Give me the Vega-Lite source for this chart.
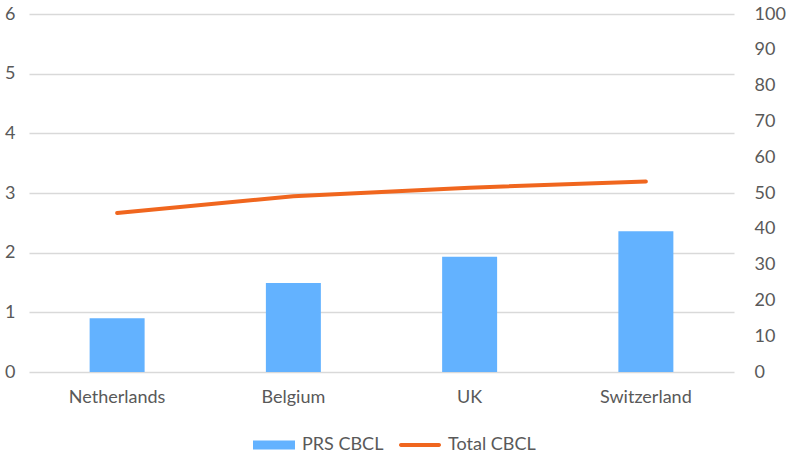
{
  "$schema": "https://vega.github.io/schema/vega-lite/v6.json",
  "autosize": {"type": "none"},
  "width": 705,
  "height": 358,
  "padding": {"left": 29, "top": 14, "right": 52, "bottom": 83},
  "background": "white",
  "config": {
    "view": {"stroke": null},
    "font": "Lato",
    "axis": {"labelFont": "Lato", "labelFontSize": 18, "labelColor": "#595959", "domain": false, "ticks": false}
  },
  "data": {
    "values": [
      {"country": "Netherlands", "prs": 0.9, "total": 44.4},
      {"country": "Belgium", "prs": 1.49, "total": 49.1},
      {"country": "UK", "prs": 1.93, "total": 51.5},
      {"country": "Switzerland", "prs": 2.36, "total": 53.2}
    ]
  },
  "encoding": {
    "x": {
      "field": "country", "type": "nominal", "sort": null,
      "scale": {"paddingInner": 0.688, "paddingOuter": 0.344},
      "axis": {"title": null, "labelAngle": 0, "labelPadding": 16, "grid": false}
    }
  },
  "layer": [
    {
      "mark": {"type": "bar", "color": "#63B2FF"},
      "encoding": {
        "y": {
          "field": "prs", "type": "quantitative",
          "scale": {"domain": [0, 6], "nice": false},
          "axis": {"title": null, "values": [0, 1, 2, 3, 4, 5, 6], "grid": true, "gridColor": "#D9D9D9", "gridWidth": 1.5, "labelPadding": 14, "orient": "left"}
        },
        "color": {
          "datum": "PRS CBCL",
          "scale": {"domain": ["PRS CBCL", "Total CBCL"], "range": ["#63B2FF", "#F0661E"]},
          "legend": {
            "title": null,
            "orient": "none",
            "direction": "horizontal",
            "legendX": 224,
            "legendY": 410,
            "symbolSize": 1764,
            "symbolType": "square",
            "labelFont": "Lato",
            "labelFontSize": 18,
            "labelColor": "#595959",
            "labelOffset": 7,
            "columnPadding": 15,
            "encode": {
              "symbols": {
                "update": {
                  "shape": {"signal": "datum.value == 'PRS CBCL' ? 'M-1,-0.22H1V0.22H-1Z' : 'M-0.91,-0.09H0.91A0.09,0.09 0 0 1 0.91,0.09H-0.91A0.09,0.09 0 0 1 -0.91,-0.09Z'"},
                  "fill": {"signal": "datum.value == 'PRS CBCL' ? '#63B2FF' : '#F0661E'"},
                  "strokeWidth": {"value": 0},
                  "opacity": {"value": 1}
                }
              }
            }
          }
        }
      }
    },
    {
      "mark": {"type": "line", "strokeWidth": 4, "strokeCap": "round"},
      "encoding": {
        "y": {
          "field": "total", "type": "quantitative",
          "scale": {"domain": [0, 100], "nice": false},
          "axis": {"title": null, "values": [0, 10, 20, 30, 40, 50, 60, 70, 80, 90, 100], "grid": false, "labelPadding": 20, "orient": "right"}
        },
        "color": {"datum": "Total CBCL"}
      }
    }
  ],
  "resolve": {"scale": {"y": "independent"}}
}
